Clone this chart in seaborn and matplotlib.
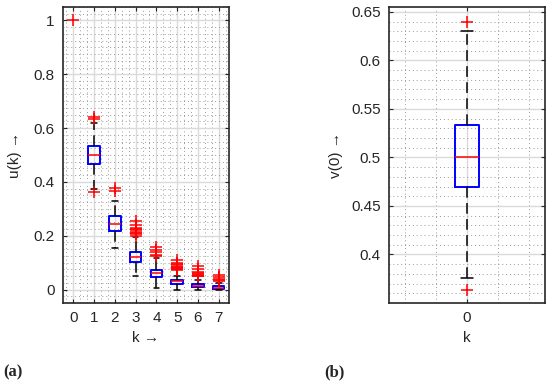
import numpy as np
import pandas as pd
import matplotlib
matplotlib.use('Agg')
import matplotlib.pyplot as plt
import seaborn as sns
from matplotlib.ticker import MultipleLocator, FuncFormatter

# ---- panel (a): box summary per k (lower whisker, q1, median, q3, upper whisker)
k_order = [0, 1, 2, 3, 4, 5, 6, 7]
k_box = [1, 2, 3, 4, 5, 6, 7]
u_lo = [0.372, 0.153, 0.052, 0.006, 0.000, 0.000, 0.000]
u_q1 = [0.466, 0.219, 0.101, 0.045, 0.021, 0.009, 0.001]
u_med = [0.500, 0.244, 0.120, 0.061, 0.030, 0.015, 0.005]
u_q3 = [0.534, 0.275, 0.141, 0.074, 0.037, 0.021, 0.012]
u_hi = [0.620, 0.328, 0.194, 0.119, 0.052, 0.036, 0.023]

# outliers of panel (a)
out_k = ([0] + [1, 1, 1] + [2, 2]
         + [3] * 9 + [4] * 5 + [5] * 10 + [6] * 8 + [7] * 5)
out_u = ([1.0]
         + [0.640, 0.633, 0.361]
         + [0.378, 0.367]
         + [0.255, 0.240, 0.230, 0.225, 0.220, 0.215, 0.210, 0.205, 0.200]
         + [0.158, 0.147, 0.138, 0.130, 0.125]
         + [0.110, 0.100, 0.095, 0.090, 0.085, 0.082, 0.080, 0.078, 0.075, 0.072]
         + [0.087, 0.075, 0.065, 0.060, 0.057, 0.055, 0.052, 0.050]
         + [0.055, 0.047, 0.040, 0.035, 0.030])

# ---- panel (b): v(0)
v_stats = [0.376, 0.469, 0.500, 0.533, 0.630]
v_out = [0.640, 0.363]

u_ticks = [0, 0.2, 0.4, 0.6, 0.8, 1.0]
v_ticks = [0.4, 0.45, 0.5, 0.55, 0.6, 0.65]

sns.set_style('ticks')
plt.rcParams['font.family'] = ['Liberation Sans', 'DejaVu Sans']

# long-form tables: five points per box reproduce the quartiles exactly
rows = []
for i, k in enumerate(k_box):
    for val in (u_lo[i], u_q1[i], u_med[i], u_q3[i], u_hi[i]):
        rows.append({'k': k, 'u': val})
df_a = pd.DataFrame(rows)
df_out = pd.DataFrame({'k': out_k, 'u': out_u})
df_b = pd.DataFrame({'k': [0] * len(v_stats), 'v': v_stats})
df_b_out = pd.DataFrame({'k': [0] * len(v_out), 'v': v_out})

fig = plt.figure(figsize=(5.5, 3.86), dpi=100)
ax_a = fig.add_axes([0.1145, 0.215, 0.302, 0.767])
ax_b = fig.add_axes([0.7073, 0.215, 0.2836, 0.767])

dash = (0, (7, 3.5))
box_kw = dict(whis=(0, 100), fill=False, color='blue', linewidth=1.0,
              boxprops=dict(color='blue', linewidth=1.4),
              medianprops=dict(color='red', linewidth=1.1),
              whiskerprops=dict(color='black', linestyle=dash, linewidth=1.1),
              capprops=dict(color='black', linewidth=1.1))

sns.boxplot(data=df_a, x='k', y='u', order=k_order, width=0.55, ax=ax_a, **box_kw)
sns.scatterplot(data=df_out, x='k', y='u', marker='+', color='red', s=75,
                linewidth=1.1, ax=ax_a, zorder=5)

sns.boxplot(data=df_b, x='k', y='v', width=0.154, ax=ax_b, **box_kw)
sns.scatterplot(data=df_b_out, x='k', y='v', marker='+', color='red', s=75,
                linewidth=1.1, ax=ax_b, zorder=5)

fmt = FuncFormatter(lambda v, p: '%g' % round(v, 3))

ax_a.set_xlim(-0.5, 7.5)
ax_a.set_ylim(-0.05, 1.05)
ax_a.set_yticks(u_ticks)
ax_a.yaxis.set_major_formatter(fmt)
ax_a.set_xticks(range(len(k_order)))
ax_a.set_xticklabels([str(k) for k in k_order])
ax_a.xaxis.set_minor_locator(MultipleLocator(1 / 3))
ax_a.yaxis.set_minor_locator(MultipleLocator(0.025))
ax_a.set_xlabel('k →', fontsize=11)
ax_a.set_ylabel('u(k) →', fontsize=11, labelpad=8)

ax_b.set_xlim(-0.5, 0.5)
ax_b.set_ylim(0.35, 0.655)
ax_b.set_yticks(v_ticks)
ax_b.yaxis.set_major_formatter(fmt)
ax_b.set_xticks([0])
ax_b.set_xticklabels(['0'])
ax_b.xaxis.set_minor_locator(MultipleLocator(0.2))
ax_b.yaxis.set_minor_locator(MultipleLocator(0.01))
ax_b.set_xlabel('k', fontsize=11)
ax_b.set_ylabel('v(0) →', fontsize=11, labelpad=6)

for ax in (ax_a, ax_b):
    ax.set_axisbelow(True)
    ax.grid(which='major', color='#dadada', linestyle='-', linewidth=1.0)
    ax.grid(which='minor', color='#9a9a9a', linestyle=(0, (1, 3)), linewidth=0.7)
    ax.tick_params(which='major', direction='in', length=3, width=0.8,
                   top=True, right=True, labelsize=11, colors='#262626',
                   pad=6)
    ax.tick_params(which='minor', length=0)
    for side in ax.spines.values():
        side.set_visible(True)
        side.set_color('#262626')
        side.set_linewidth(1.2)

fig.text(0.005, 0.025, '(a)', fontsize=12, fontweight='bold',
         family=['Liberation Serif', 'DejaVu Serif'])
fig.text(0.59, 0.025, '(b)', fontsize=12, fontweight='bold',
         family=['Liberation Serif', 'DejaVu Serif'])

fig.savefig('out.png', dpi=100)
